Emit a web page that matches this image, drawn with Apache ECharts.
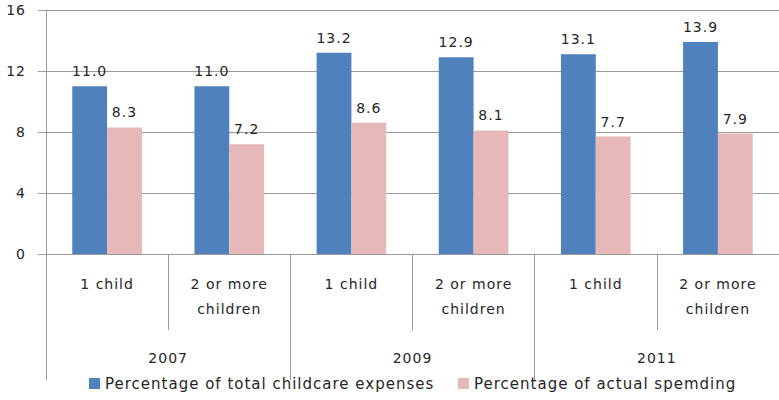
<!DOCTYPE html>
<html>
<head>
<meta charset="utf-8">
<script src="https://cdn.jsdelivr.net/npm/echarts@6/dist/echarts.min.js"></script>
<style>
  html, body { margin: 0; padding: 0; background: #fff; }
  #chart { width: 779px; height: 400px; letter-spacing: 1px; }
</style>
</head>
<body>
<div id="chart"></div>
<script>
// Household types within each survey year
const categories = ['1 child', '2 or more\nchildren', '1 child', '2 or more\nchildren', '1 child', '2 or more\nchildren'];
const years = ['2007', '2009', '2011'];
const yTicks = [0, 4, 8, 12, 16];

const totalChildcare = [11.0, 11.0, 13.2, 12.9, 13.1, 13.9];
const actualSpending = [8.3, 7.2, 8.6, 8.1, 7.7, 7.9];

const seriesNames = ['Percentage of total childcare expenses', 'Percentage of actual spemding'];
const seriesColors = ['#4F81BD', '#E6B9B8'];

const FONT = '"DejaVu Sans", Verdana, sans-serif';
const GRID_COLOR = '#9a9a9a';
const TEXT_COLOR = '#262626';

const chart = echarts.init(document.getElementById('chart'), null, { renderer: 'svg' });

const labelStyle = {
  show: true,
  position: 'top',
  distance: 8,
  fontFamily: FONT,
  fontSize: 14,
  color: TEXT_COLOR,
  formatter: p => p.value.toFixed(1)
};

// one legend block per series so each entry can be placed on its own
const legendBlock = (name, left) => ({
  bottom: 4,
  left: left,
  itemWidth: 11,
  itemHeight: 11,
  icon: 'rect',
  textStyle: { fontFamily: FONT, fontSize: 15, color: TEXT_COLOR },
  data: [name]
});

chart.setOption({
  animation: false,
  textStyle: { fontFamily: FONT },
  grid: { left: 46, top: 10, width: 741, height: 244, containLabel: false },
  legend: [legendBlock(seriesNames[0], 84), legendBlock(seriesNames[1], 453)],
  xAxis: [
    {
      type: 'category',
      data: categories,
      position: 'bottom',
      axisLine: { show: true, lineStyle: { color: GRID_COLOR, width: 1 } },
      axisTick: { show: true, length: 76, interval: 0, lineStyle: { color: GRID_COLOR } },
      axisLabel: {
        interval: 0,
        margin: 17,
        fontFamily: FONT,
        fontSize: 14,
        lineHeight: 25,
        color: TEXT_COLOR,
        verticalAlign: 'top'
      }
    },
    {
      type: 'category',
      data: years,
      position: 'bottom',
      axisLine: { show: false },
      axisTick: { show: true, length: 126, interval: 0, lineStyle: { color: GRID_COLOR } },
      axisLabel: {
        interval: 0,
        margin: 97,
        fontFamily: FONT,
        fontSize: 14,
        color: TEXT_COLOR,
        verticalAlign: 'top'
      }
    }
  ],
  yAxis: {
    type: 'value',
    min: yTicks[0],
    max: yTicks[yTicks.length - 1],
    interval: 4,
    axisLine: { show: true, lineStyle: { color: GRID_COLOR } },
    axisTick: { show: true, length: 8, lineStyle: { color: GRID_COLOR } },
    splitLine: { show: true, lineStyle: { color: GRID_COLOR, width: 1 } },
    axisLabel: { margin: 20, fontFamily: FONT, fontSize: 14, color: TEXT_COLOR }
  },
  series: [
    {
      name: seriesNames[0],
      type: 'bar',
      xAxisIndex: 0,
      data: totalChildcare,
      barGap: '0%',
      barCategoryGap: '43%',
      itemStyle: { color: seriesColors[0] },
      label: labelStyle
    },
    {
      name: seriesNames[1],
      type: 'bar',
      xAxisIndex: 0,
      data: actualSpending,
      itemStyle: { color: seriesColors[1] },
      label: labelStyle
    }
  ]
});
</script>
</body>
</html>
